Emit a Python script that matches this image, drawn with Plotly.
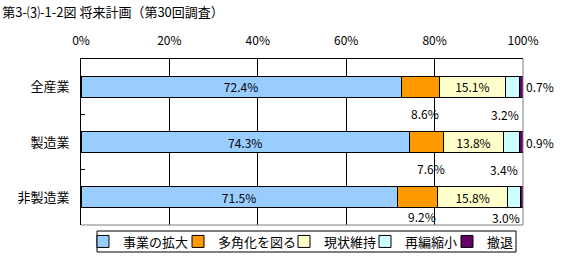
import plotly.graph_objects as go

categories = ["全産業", "製造業", "非製造業"]
series_names = ["事業の拡大", "多角化を図る", "現状維持", "再編縮小", "撤退"]
expand = [72.4, 74.3, 71.5]
diversify = [8.6, 7.6, 9.2]
maintain = [15.1, 13.8, 15.8]
shrink = [3.2, 3.4, 3.0]
withdraw = [0.7, 0.9, 0.6]
colors = ["#99CCFF", "#FF9900", "#FFFFCC", "#CCFFFF", "#660066"]
x_ticks = [0, 20, 40, 60, 80, 100]

series = [expand, diversify, maintain, shrink, withdraw]
FONT = "Noto Sans CJK JP"

W, H = 577, 267
ML, MR, MT, MB = 81, 54, 59, 42
PW, PH = W - ML - MR, H - MT - MB


def px_to_paper_x(px):
    return (px - ML) / PW


def px_to_paper_y(py):
    return (H - MB - py) / PH


fig = go.Figure()
legend_names = ["legend", "legend2", "legend3", "legend4", "legend5"]
for i, (name, vals, col) in enumerate(zip(series_names, series, colors)):
    inside = i in (0, 2)
    fig.add_trace(go.Bar(
        y=categories, x=vals, name=name, orientation="h",
        marker=dict(color=col, line=dict(color="black", width=1)),
        text=[f"{v:.1f}%" for v in vals] if inside else None,
        textposition="inside" if inside else "none",
        insidetextanchor="middle",
        constraintext="none",
        textfont=dict(family=FONT, size=12, color="black"),
        hoverinfo="skip",
        legend=legend_names[i],
    ))

annotations = []
yshifts = [-27, -26, -19]
for j, cat in enumerate(categories):
    c1 = expand[j]
    c2 = c1 + diversify[j]
    c3 = c2 + maintain[j]
    c4 = c3 + shrink[j]
    annotations.append(dict(x=(c1 + c2) / 2, y=cat, text=f"{diversify[j]:.1f}%",
                            showarrow=False, xanchor="center", xshift=5,
                            yshift=yshifts[j], font=dict(family=FONT, size=12, color="black")))
    annotations.append(dict(x=c4, y=cat, text=f"{shrink[j]:.1f}%",
                            showarrow=False, xanchor="right", xshift=1,
                            yshift=yshifts[j] - 1, font=dict(family=FONT, size=12, color="black")))
    annotations.append(dict(x=c4 + withdraw[j], y=cat, text=f"{withdraw[j]:.1f}%",
                            showarrow=False, xanchor="left", xshift=1,
                            font=dict(family=FONT, size=12, color="black")))

# legend layout: one legend per series, laid out in a single boxed row
legend_text_starts = [123, 218, 324, 405, 487]
legend_layout = {}
for i, ln in enumerate(legend_names):
    legend_layout[ln] = dict(
        x=px_to_paper_x(legend_text_starts[i] - 40), xanchor="left",
        y=px_to_paper_y(241.5), yanchor="middle",
        orientation="h", bgcolor="rgba(0,0,0,0)", borderwidth=0,
        font=dict(family=FONT, size=13, color="black"), itemwidth=30,
    )

fig.update_layout(
    template="none",
    title=dict(text="第3-⑶-1-2図 将来計画（第30回調査）", xref="container", yref="container",
               x=0.004, xanchor="left", y=1 - 12 / H, yanchor="middle",
               font=dict(family=FONT, size=13, color="black")),
    annotations=annotations,
    barmode="stack",
    bargap=0.62,
    width=W, height=H,
    margin=dict(l=ML, r=MR, t=MT, b=MB, autoexpand=False),
    paper_bgcolor="white", plot_bgcolor="white",
    font=dict(family=FONT, size=12, color="black"),
    showlegend=True,
    xaxis=dict(range=[0, 100], side="top", tickvals=x_ticks, ticktext=[f"{v}%" for v in x_ticks],
               showgrid=True, gridcolor="black", gridwidth=1, zeroline=False, automargin=False,
               showline=True, linecolor="black", linewidth=1, ticks="", fixedrange=True,
               tickfont=dict(family=FONT, size=12), ticklabelstandoff=8),
    yaxis=dict(categoryorder="array", categoryarray=categories,
               range=[len(categories) - 0.5, -0.5], autorange=False,
               showline=True, linecolor="black", linewidth=1, ticks="inside", ticklen=4,
               tickson="boundaries", tickcolor="black", showgrid=False, automargin=False,
               zeroline=False, fixedrange=True,
               tickfont=dict(family=FONT, size=13), ticklabelstandoff=8),
    shapes=[
        dict(type="line", xref="paper", yref="paper", x0=1, x1=1, y0=0, y1=1,
             line=dict(color="#808080", width=1)),
        dict(type="line", xref="paper", yref="paper", x0=0, x1=1, y0=0, y1=0,
             line=dict(color="#808080", width=1)),
        dict(type="rect", xref="paper", yref="paper",
             x0=px_to_paper_x(97), x1=px_to_paper_x(516),
             y0=px_to_paper_y(252), y1=px_to_paper_y(231),
             line=dict(color="black", width=1), fillcolor="rgba(0,0,0,0)"),
    ],
    **legend_layout,
)

fig.write_html("out.html")
